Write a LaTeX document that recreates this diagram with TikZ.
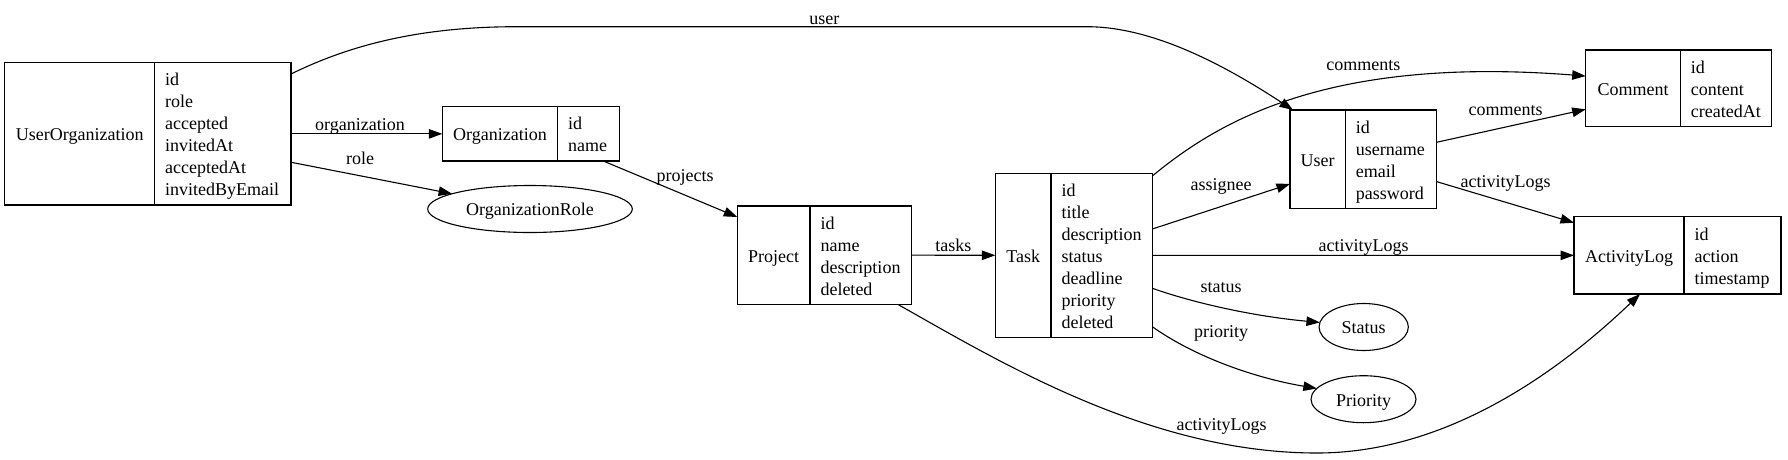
\documentclass[tikz,border=0pt]{standalone}
\usepackage{fontspec}
\setmainfont{Liberation Serif}
\usetikzlibrary{arrows.meta,calc,shapes.geometric}
\hyphenpenalty=10000
\exhyphenpenalty=10000
\newcommand\fstr{\rule[-4.1pt]{0pt}{22pt}}
\begin{document}
\begin{tikzpicture}[x=1pt,y=-1pt,
  every node/.style={font=\fontsize{18}{22}\selectfont, inner sep=0pt, outer sep=0pt},
  namebox/.style={draw, line width=1.1pt, anchor=north west, align=center},
  fieldbox/.style={draw, line width=1.1pt, anchor=north west, align=left, inner xsep=10.5pt},
  ent/.style={draw, line width=1.1pt, ellipse, minimum height=47pt},
  conn/.style={line width=1.1pt, -{Triangle[length=13.5pt,width=9.5pt]}},
  lbl/.style={text height=12.5pt, text depth=4pt, yshift=-2.5pt}
]
\useasboundingbox (0,0) rectangle (1788,459);

% records
\node[namebox, minimum width=150pt, minimum height=142.3pt] (uoN) at (4.7,62.7) {\fstr UserOrganization};
\node[fieldbox, text width=115.3pt, minimum height=142.3pt] (uoF) at (uoN.north east)
  {\fstr id\\\fstr role\\\fstr accepted\\\fstr invitedAt\\\fstr acceptedAt\\\fstr invitedByEmail};

\node[namebox, minimum width=115.4pt, minimum height=54.3pt] (orgN) at (442.3,106.7) {\fstr Organization};
\node[fieldbox, text width=40.6pt, minimum height=54.3pt] (orgF) at (orgN.north east)
  {\fstr id\\\fstr name};

\node[namebox, minimum width=72.7pt, minimum height=98.3pt] (projN) at (737.3,206) {\fstr Project};
\node[fieldbox, text width=80.7pt, minimum height=98.3pt] (projF) at (projN.north east)
  {\fstr id\\\fstr name\\\fstr description\\\fstr deleted};

\node[namebox, minimum width=55.7pt, minimum height=164pt] (taskN) at (995.3,173.3) {\fstr Task};
\node[fieldbox, text width=80.3pt, minimum height=164pt] (taskF) at (taskN.north east)
  {\fstr id\\\fstr title\\\fstr description\\\fstr status\\\fstr deadline\\\fstr priority\\\fstr deleted};

\node[namebox, minimum width=55.3pt, minimum height=98.3pt] (userN) at (1290,110) {\fstr User};
\node[fieldbox, text width=70.4pt, minimum height=98.3pt] (userF) at (userN.north east)
  {\fstr id\\\fstr username\\\fstr email\\\fstr password};

\node[namebox, minimum width=94.6pt, minimum height=76.7pt] (comN) at (1585.7,50) {\fstr Comment};
\node[fieldbox, text width=70.4pt, minimum height=76.7pt] (comF) at (comN.north east)
  {\fstr id\\\fstr content\\\fstr createdAt};

\node[namebox, minimum width=110pt, minimum height=77.3pt] (alN) at (1574,216.7) {\fstr ActivityLog};
\node[fieldbox, text width=76pt, minimum height=77.3pt] (alF) at (alN.north east)
  {\fstr id\\\fstr action\\\fstr timestamp};

% enums
\node[ent, minimum width=204.6pt] (orgrole) at (530,209) {\fstr OrganizationRole};
\node[ent, minimum width=89.3pt] (status) at (1363.7,327) {\fstr Status};
\node[ent, minimum width=105pt] (priority) at (1363.5,399.2) {\fstr Priority};

% connectors
\draw[conn] ($(uoF.north east)+(0,11.3)$) .. controls (350,45) and (420,26.7) .. (517,26.7)
  -- (1087,26.7) .. controls (1150,26.7) and (1220,62) .. ($(userN.north west)+(3,0)$);
\draw[conn] (uoF.east) -- (orgN.west);
\draw[conn] ($(uoF.east)+(0,28.4)$) -- (orgrole);
\draw[conn] ($(orgF.south west)+(45.6,0)$) -- ($(projN.north west)+(0,11)$);
\draw[conn] (projF.east) -- (taskN.west);
\draw[conn] ($(projF.south east)+(-14,0)$) .. controls (1000,362) and (1150,453) .. (1317,453)
  .. controls (1440,453) and (1550,380) .. ($(alN.south)+(11,0)$);
\draw[conn] ($(taskF.north east)+(0,2.7)$) .. controls (1220,120) and (1330,56) .. ($(comN.west)+(0,-12.3)$);
\draw[conn] ($(taskF.east)+(0,-26.3)$) -- ($(userN.west)+(0,24.8)$);
\draw[conn] (taskF.east) -- (alN.west);
\draw[conn] ($(taskF.east)+(0,33)$) .. controls (1200,305) and (1260,317) .. (status.174);
\draw[conn] ($(taskF.east)+(0,71.4)$) .. controls (1195,357) and (1255,378) .. (priority.167);
\draw[conn] ($(userF.east)+(0,-16.9)$) -- ($(comN.west)+(0,21)$);
\draw[conn] ($(userF.east)+(0,22.5)$) -- ($(alN.north west)+(0,6)$);

% labels
\node[lbl] (lUser) at (824.3,17.3) {user};
\node[lbl] (lOrg) at (360,124) {organization};
\node[lbl] (lRole) at (360,157.3) {role};
\node[lbl] (lProj) at (685,175) {projects};
\node[lbl] (lTasks) at (953.3,245) {tasks};
\node[lbl] (lPAL) at (1221.7,424) {activityLogs};
\node[lbl] (lTCom) at (1363.3,64) {comments};
\node[lbl] (lAssg) at (1221,183.3) {assignee};
\node[lbl] (lTAL) at (1363.7,245) {activityLogs};
\node[lbl] (lStat) at (1221,286) {status};
\node[lbl] (lPrio) at (1221,330.7) {priority};
\node[lbl] (lUCom) at (1505.7,108.3) {comments};
\node[lbl] (lUAL) at (1505.7,180.7) {activityLogs};
\end{tikzpicture}
\end{document}
